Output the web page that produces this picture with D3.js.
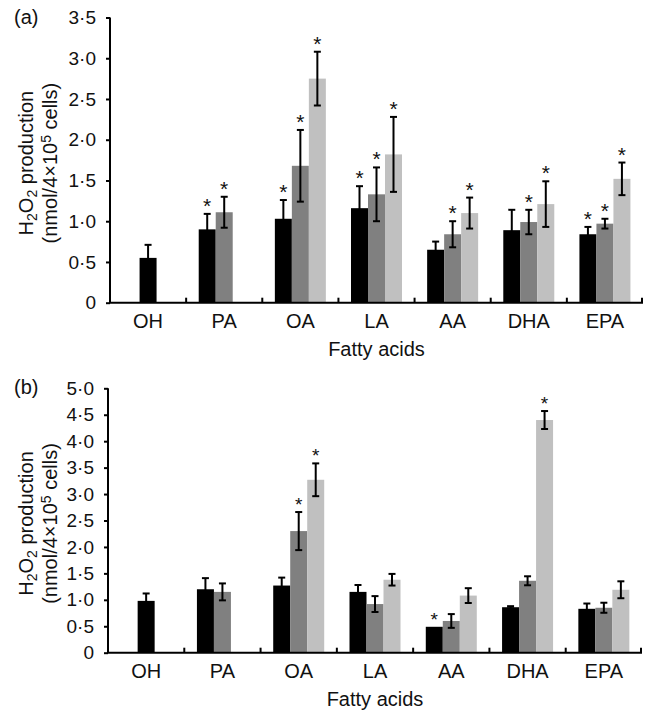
<!DOCTYPE html>
<html>
<head>
<meta charset="utf-8">
<script src="https://cdn.jsdelivr.net/npm/d3@7"></script>
<style>
  body { margin: 0; background: #fff; }
  svg text { font-family: "Liberation Sans", Arial, sans-serif; fill: #111; }
</style>
</head>
<body>
<div id="chart"></div>
<script>
// categories (fatty acids)
var categories = ["OH", "PA", "OA", "LA", "AA", "DHA", "EPA"]
var seriesColors = ["#000000", "#808080", "#c0c0c0"]

// panel (a) values, sem, significance
var a_black = [0.55, 0.90, 1.03, 1.16, 0.65, 0.89, 0.84]
var a_black_err = [0.16, 0.19, 0.23, 0.27, 0.10, 0.25, 0.09]
var a_gray = [null, 1.11, 1.68, 1.33, 0.84, 0.99, 0.97]
var a_gray_err = [null, 0.19, 0.44, 0.33, 0.16, 0.15, 0.06]
var a_light = [null, null, 2.75, 1.82, 1.10, 1.21, 1.52]
var a_light_err = [null, null, 0.33, 0.46, 0.19, 0.28, 0.20]
var a_sig = [[0, 1, 1, 1, 0, 0, 1], [0, 1, 1, 1, 1, 1, 1], [0, 0, 1, 1, 1, 1, 1]]
var a_ticks = [0, 0.5, 1, 1.5, 2, 2.5, 3, 3.5]

// panel (b)
var b_black = [0.98, 1.20, 1.27, 1.15, 0.49, 0.86, 0.83]
var b_black_err = [0.14, 0.21, 0.15, 0.13, 0, 0.02, 0.10]
var b_gray = [null, 1.15, 2.30, 0.92, 0.60, 1.36, 0.85]
var b_gray_err = [null, 0.16, 0.36, 0.15, 0.13, 0.085, 0.095]
var b_light = [null, null, 3.27, 1.38, 1.08, 4.40, 1.19]
var b_light_err = [null, null, 0.31, 0.11, 0.14, 0.17, 0.16]
var b_sig = [[0, 0, 0, 0, 1, 0, 0], [0, 0, 1, 0, 0, 0, 0], [0, 0, 1, 0, 0, 1, 0]]
var b_ticks = [0, 0.5, 1, 1.5, 2, 2.5, 3, 3.5, 4, 4.5, 5]

var svg = d3.select("#chart").append("svg")
    .attr("width", 647)
    .attr("height", 712)

function fmt(v) {
    return v === 0 ? "0" : d3.format(".1f")(v).replace(".", "\u00b7")
}

function drawPanel(p) {
    var g = svg.append("g")

    var x = d3.scaleBand().domain(categories).range([p.left, p.right])
    var y = d3.scaleLinear().domain([0, p.max]).range([p.bottom, p.top])
    var bw = 17

    var series = [
        {vals: p.black, err: p.black_err, sig: p.sig[0], color: seriesColors[0]},
        {vals: p.gray, err: p.gray_err, sig: p.sig[1], color: seriesColors[1]},
        {vals: p.light, err: p.light_err, sig: p.sig[2], color: seriesColors[2]}
    ]

    // flatten into bars
    var bars = []
    categories.forEach(function(c, i) {
        var n = series.filter(function(s) { return s.vals[i] != null }).length
        series.forEach(function(s, j) {
            if (s.vals[i] == null) return
            var slot = n == 1 ? 0 : j - 1
            bars.push({cat: c, v: s.vals[i], e: s.err[i], sig: s.sig[i], color: s.color,
                       cx: x(c) + x.bandwidth() / 2 + slot * bw})
        })
    })

    g.selectAll("rect.bar").data(bars).enter().append("rect")
        .attr("class", "bar")
        .attr("x", function(d) { return d.cx - bw / 2 })
        .attr("width", bw)
        .attr("y", function(d) { return y(d.v) })
        .attr("height", function(d) { return y(0) - y(d.v) })
        .attr("fill", function(d) { return d.color })

    // error bars
    var eb = g.selectAll("g.err").data(bars.filter(function(d) { return d.e > 0 })).enter().append("g")
        .attr("stroke", "#000").attr("stroke-width", 2)
    eb.append("line")
        .attr("x1", function(d) { return d.cx }).attr("x2", function(d) { return d.cx })
        .attr("y1", function(d) { return y(d.v - d.e) }).attr("y2", function(d) { return y(d.v + d.e) })
    eb.append("line")
        .attr("x1", function(d) { return d.cx - 3.5 }).attr("x2", function(d) { return d.cx + 3.5 })
        .attr("y1", function(d) { return y(d.v + d.e) }).attr("y2", function(d) { return y(d.v + d.e) })
    eb.append("line")
        .attr("x1", function(d) { return d.cx - 3.5 }).attr("x2", function(d) { return d.cx + 3.5 })
        .attr("y1", function(d) { return y(d.v - d.e) }).attr("y2", function(d) { return y(d.v - d.e) })

    // asterisks
    g.selectAll("text.sig").data(bars.filter(function(d) { return d.sig })).enter().append("text")
        .attr("class", "sig")
        .attr("x", function(d) { return d.cx })
        .attr("y", function(d) { return y(d.v + d.e) - 1 })
        .attr("text-anchor", "middle")
        .style("font-size", p.starSize + "px")
        .text("*")

    // y axis
    var ya = g.append("g")
        .attr("transform", "translate(" + p.left + ",0)")
        .call(d3.axisLeft(y).tickValues(p.ticks).tickFormat(fmt).tickSize(4).tickPadding(10))
    ya.select(".domain").attr("stroke-width", 2).attr("d", "M0," + p.top + "V" + p.bottom)
    ya.selectAll(".tick line").attr("stroke-width", 2)
    ya.selectAll(".tick text").style("font-size", "19px").attr("fill", "#111")

    // x axis
    var xa = g.append("g")
        .attr("transform", "translate(0," + p.bottom + ")")
    xa.append("line")
        .attr("x1", p.left - 1).attr("x2", p.right)
        .attr("stroke", "#000").attr("stroke-width", 2)
    xa.selectAll("line.xt").data(categories.slice(1).concat(["end"])).enter().append("line")
        .attr("class", "xt")
        .attr("x1", function(d) { return d == "end" ? p.right - 1 : x(d) })
        .attr("x2", function(d) { return d == "end" ? p.right - 1 : x(d) })
        .attr("y1", 0).attr("y2", -5)
        .attr("stroke", "#000").attr("stroke-width", 2)
    xa.selectAll("text").data(categories).enter().append("text")
        .attr("x", function(d) { return x(d) + x.bandwidth() / 2 })
        .attr("y", 25)
        .attr("text-anchor", "middle")
        .style("font-size", "20px")
        .text(function(d) { return d })

    g.append("text")
        .attr("x", (p.left + p.right) / 2)
        .attr("y", p.bottom + 53)
        .attr("text-anchor", "middle")
        .style("font-size", "20px")
        .text("Fatty acids")

    // panel letter
    g.append("text")
        .attr("x", 14).attr("y", p.top + 6)
        .style("font-size", "20px")
        .text(p.label)

    // y title
    var cy = (p.top + p.bottom) / 2 + 3
    var t1 = g.append("text")
        .attr("transform", "translate(33," + cy + ") rotate(-90)")
        .attr("text-anchor", "middle")
        .style("font-size", "20px")
    t1.append("tspan").text("H")
    t1.append("tspan").attr("baseline-shift", "-25%").style("font-size", "14px").text("2")
    t1.append("tspan").text("O")
    t1.append("tspan").attr("baseline-shift", "-25%").style("font-size", "14px").text("2")
    t1.append("tspan").text(" production")

    var t2 = g.append("text")
        .attr("transform", "translate(57," + cy + ") rotate(-90)")
        .attr("text-anchor", "middle")
        .style("font-size", "20px")
    t2.append("tspan").text("(nmol/4\u00d710")
    t2.append("tspan").attr("baseline-shift", "45%").style("font-size", "14px").text("5")
    t2.append("tspan").text(" cells)")
}

drawPanel({label: "(a)", left: 110, right: 643, top: 17.5, bottom: 302.7, max: 3.5, ticks: a_ticks,
    black: a_black, black_err: a_black_err, gray: a_gray, gray_err: a_gray_err,
    light: a_light, light_err: a_light_err, sig: a_sig, starSize: 21})

drawPanel({label: "(b)", left: 108, right: 642, top: 388.3, bottom: 652.7, max: 5, ticks: b_ticks,
    black: b_black, black_err: b_black_err, gray: b_gray, gray_err: b_gray_err,
    light: b_light, light_err: b_light_err, sig: b_sig, starSize: 19})
</script>
</body>
</html>
